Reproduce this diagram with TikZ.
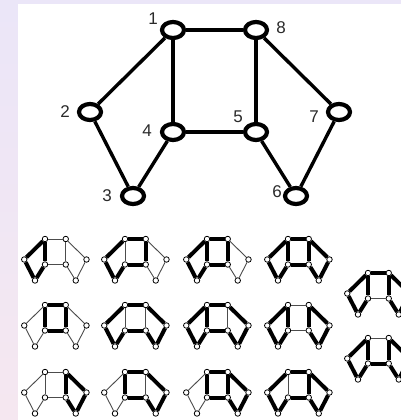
\documentclass[tikz,border=0pt]{standalone}
\usepackage{fontspec}
\setmainfont{Liberation Sans}
\usetikzlibrary{shapes.geometric}

\definecolor{bgtop}{HTML}{EBE6F8}
\definecolor{bgbot}{HTML}{F5E7F0}
\definecolor{numgray}{HTML}{2A2A2A}

\tikzset{
  vertex/.style={draw, ellipse, fill=white, line width=4.2pt, minimum width=22pt, minimum height=16pt, inner sep=0pt},
  link/.style={line width=3.4pt},
  num/.style={text=numgray, font=\fontsize{17}{17}\selectfont, inner sep=0pt},
  dot/.style={draw, circle, fill=white, line width=0.8pt, minimum size=5.5pt, inner sep=0pt},
  slim/.style={line width=0.9pt, black!70},
  fat/.style={line width=4pt},
}

% vertex positions relative to vertex 1, and the ten edges
\newcommand{\vertexlist}{1/0/0, 8/83/0, 2/-83/82, 4/0/102, 5/83/102, 7/166/82, 3/-40/166, 6/123/166}
\newcommand{\edgelist}{1/2, 2/3, 3/4, 1/4, 1/8, 4/5, 8/5, 8/7, 7/6, 6/5}

% small copy: name prefix, position of vertex 1, thick edges
\newcommand{\minigraph}[3]{%
  \begin{scope}[shift={(#2)}, scale=0.25]
    \foreach \v/\x/\y in \vertexlist
      \node[dot] (#1\v) at (\x,\y) {};
    \foreach \a/\b in \edgelist
      \draw[slim] (#1\a) -- (#1\b);
    \foreach \a/\b in {#3}
      \draw[fat] (#1\a) -- (#1\b);
  \end{scope}}

\begin{document}
\begin{tikzpicture}[x=1pt, y=-1pt]
    \clip (0,0) rectangle (401,420);
    % Sfondo
    \fill[top color=bgtop, bottom color=bgbot] (0,0) rectangle (401,420);
    \fill[white] (18,4) rectangle (401,420);

    % Grafo grande
    \begin{scope}[shift={(173,30)}]
        \foreach \v/\x/\y in \vertexlist
            \node[vertex] (n\v) at (\x,\y) {};
        \foreach \a/\b in \edgelist
            \draw[link] (n\a) -- (n\b);
    \end{scope}

    % Etichette
    \node[num] (t1) at (153,19) {1};
    \node[num] (t8) at (281,28) {8};
    \node[num] (t2) at (65,112) {2};
    \node[num] (t4) at (147,131) {4};
    \node[num] (t5) at (238,117) {5};
    \node[num] (t7) at (314,117) {7};
    \node[num] (t3) at (107,196) {3};
    \node[num] (t6) at (277,192) {6};

    % Sottografi
    \minigraph{a}{45,239}{1/2, 2/3, 3/4, 1/4}
    \minigraph{b}{125,239}{1/2, 2/3, 3/4, 4/5, 8/5, 1/8}
    \minigraph{c}{207,239}{1/2, 2/3, 3/4, 1/4, 1/8, 8/5, 4/5}
    \minigraph{d}{288,239}{1/2, 2/3, 3/4, 1/4, 1/8, 4/5, 8/5, 8/7, 7/6, 6/5}

    \minigraph{e}{45,305}{1/4, 1/8, 4/5, 8/5}
    \minigraph{f}{125,305}{1/2, 2/3, 3/4, 4/5, 6/5, 7/6, 8/7, 1/8}
    \minigraph{g}{207,305}{1/2, 2/3, 3/4, 1/4, 1/8, 4/5, 8/7, 7/6, 6/5}
    \minigraph{h}{288,305}{1/2, 2/3, 3/4, 1/4, 8/5, 8/7, 7/6, 6/5}

    \minigraph{i}{45,372}{8/5, 8/7, 7/6, 6/5}
    \minigraph{j}{125,372}{1/4, 1/8, 4/5, 8/7, 7/6, 6/5}
    \minigraph{k}{207,372}{1/4, 1/8, 4/5, 8/5, 8/7, 7/6, 6/5}
    \minigraph{l}{288,372}{1/2, 2/3, 3/4, 1/8, 4/5, 8/5, 8/7, 7/6, 6/5}

    \minigraph{m}{368,273}{1/2, 2/3, 3/4, 1/4, 1/8, 8/5, 8/7, 7/6, 6/5}
    \minigraph{o}{368,338}{1/2, 2/3, 3/4, 1/4, 4/5, 8/5, 8/7, 7/6, 6/5}
\end{tikzpicture}
\end{document}
